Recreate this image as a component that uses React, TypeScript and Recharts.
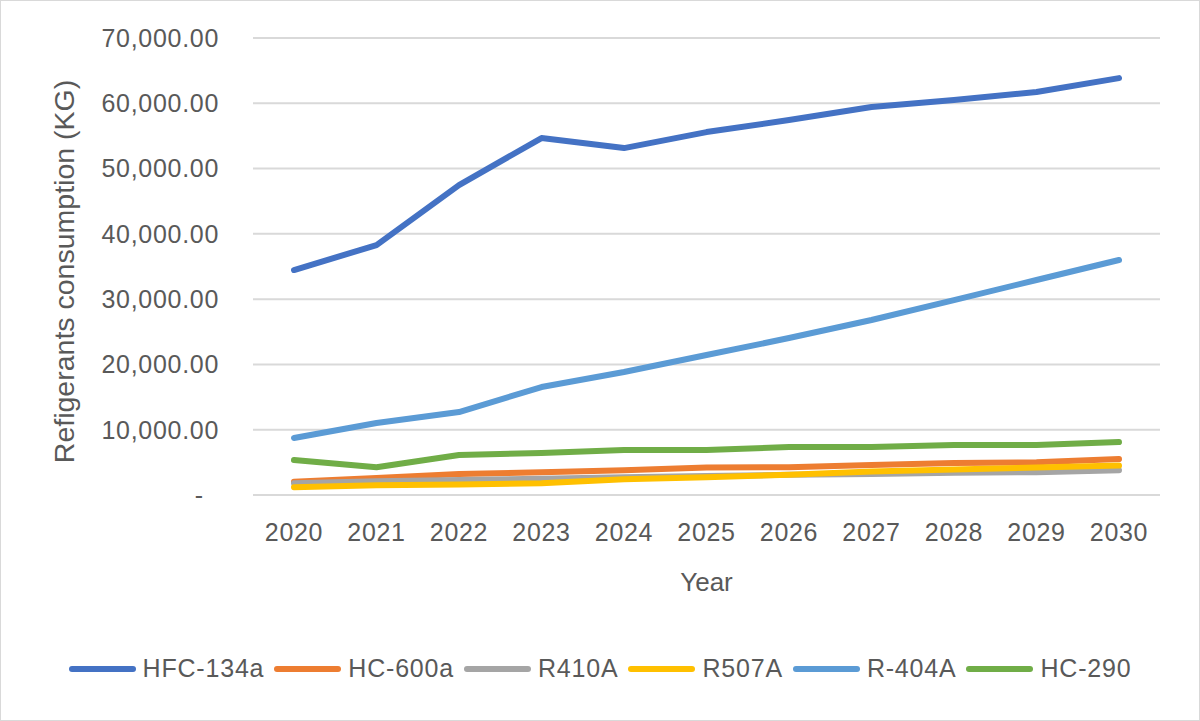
import { CartesianGrid, Label, Line, LineChart, Legend, XAxis, YAxis } from "recharts";

const years = ["2020", "2021", "2022", "2023", "2024", "2025", "2026", "2027", "2028", "2029", "2030"];
const hfc134a = [34460, 38280, 47470, 54670, 53140, 55590, 57430, 59420, 60490, 61720, 63860];
const hc600a = [2040, 2600, 3200, 3500, 3800, 4200, 4250, 4600, 4900, 5000, 5500];
const r410a = [1800, 2100, 2300, 2500, 2700, 2900, 3100, 3200, 3400, 3500, 3800];
const r507a = [1200, 1500, 1600, 1800, 2400, 2700, 3100, 3600, 3900, 4200, 4500];
const r404a = [8730, 11030, 12710, 16540, 18840, 21440, 24040, 26800, 29860, 32930, 35990];
const hc290 = [5360, 4240, 6130, 6430, 6900, 6900, 7350, 7350, 7650, 7650, 8100];
const yTicks = [0, 10000, 20000, 30000, 40000, 50000, 60000, 70000];

const series = [
  { key: "hfc134a", name: "HFC-134a", color: "#4472C4" },
  { key: "hc600a", name: "HC-600a", color: "#ED7D31" },
  { key: "r410a", name: "R410A", color: "#A5A5A5" },
  { key: "r507a", name: "R507A", color: "#FFC000" },
  { key: "r404a", name: "R-404A", color: "#5B9BD5" },
  { key: "hc290", name: "HC-290", color: "#70AD47" },
];

const data = years.map((year, i) => ({
  year,
  hfc134a: hfc134a[i],
  hc600a: hc600a[i],
  r410a: r410a[i],
  r507a: r507a[i],
  r404a: r404a[i],
  hc290: hc290[i],
}));

const font = "'Liberation Sans', Arial, sans-serif";
const textColor = "#595959";
const tickStyle = { fill: textColor, fontSize: 25, fontFamily: font, letterSpacing: 0.7 };

function formatTick(v: number) {
  if (v === 0) return "-\u00A0\u00A0";
  return v.toLocaleString("en-US", { minimumFractionDigits: 2, maximumFractionDigits: 2 });
}

function LegendContent() {
  return (
    <div style={{ display: "flex", justifyContent: "center", alignItems: "center", fontFamily: font, fontSize: 25, color: textColor, letterSpacing: 0.8, marginLeft: 10 }}>
      {series.map((s) => (
        <div key={s.key} style={{ display: "flex", alignItems: "center", marginRight: 10 }}>
          <span style={{ display: "inline-block", width: 67, height: 6, borderRadius: 3, background: s.color, marginRight: 7 }} />
          <span>{s.name}</span>
        </div>
      ))}
    </div>
  );
}

export default function App() {
  return (
    <div style={{ position: "absolute", left: 0, top: 0, width: 1200, height: 721, background: "#fff" }}>
      <div style={{ position: "absolute", left: 0, top: 0, width: 1198, height: 719, border: "1px solid #d9d9d9" }} />
      <LineChart width={1200} height={721} data={data} margin={{ top: 38, right: 40, left: 40, bottom: 57 }}>
        <CartesianGrid stroke="#d9d9d9" strokeWidth={2} vertical={false} />
        <XAxis
          dataKey="year"
          axisLine={{ stroke: "#d9d9d9", strokeWidth: 2 }}
          tickLine={false}
          padding={{ left: 41, right: 41 }}
          tick={tickStyle}
          tickMargin={22}
          height={140}
        >
          <Label value="Year" position="insideTop" offset={78} style={{ fill: textColor, fontSize: 26, fontFamily: font }} />
        </XAxis>
        <YAxis
          domain={[0, 70000]}
          ticks={yTicks}
          axisLine={false}
          tickLine={false}
          tickFormatter={formatTick}
          tick={tickStyle}
          tickMargin={28}
          width={213}
        >
          <Label
            value="Refigerants consumption (KG)"
            angle={-90}
            position="insideLeft"
            offset={24}
            dy={5}
            style={{ textAnchor: "middle", fill: textColor, fontSize: 28.5, fontFamily: font }}
          />
        </YAxis>
        <Legend verticalAlign="bottom" content={<LegendContent />} wrapperStyle={{ bottom: 38 }} />
        {series.map((s) => (
          <Line
            key={s.key}
            type="linear"
            dataKey={s.key}
            name={s.name}
            stroke={s.color}
            strokeWidth={6}
            strokeLinecap="round"
            strokeLinejoin="round"
            dot={false}
            isAnimationActive={false}
          />
        ))}
      </LineChart>
    </div>
  );
}
